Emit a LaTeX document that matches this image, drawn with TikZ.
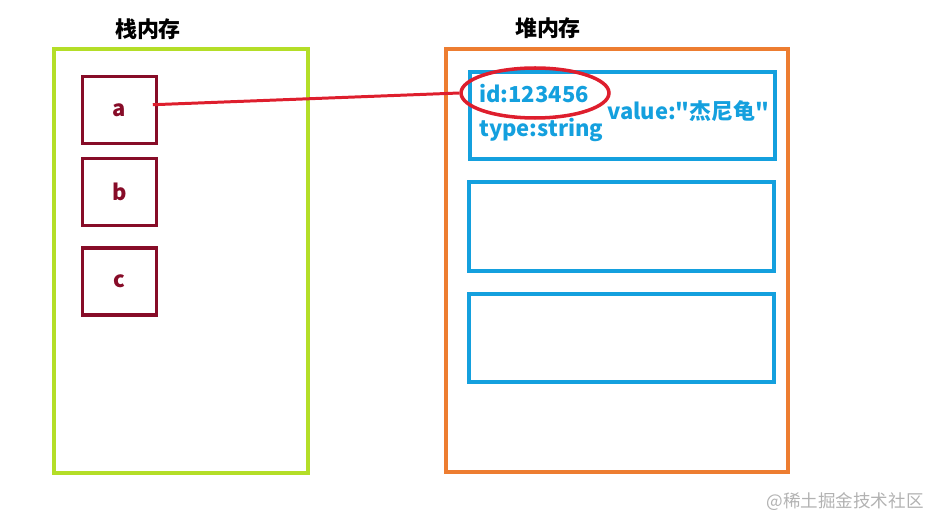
\documentclass[tikz,border=0pt]{standalone}
\usepackage{fontspec}
\setmainfont{Noto Sans CJK SC}[Ligatures=TeXOff]
\usepackage{tikz}
\usetikzlibrary{shapes.geometric}

\definecolor{stackgreen}{RGB}{180,222,40}
\definecolor{heaporange}{RGB}{237,125,49}
\definecolor{vardark}{RGB}{135,12,40}
\definecolor{objblue}{RGB}{20,160,222}
\definecolor{linkred}{RGB}{222,30,45}

\begin{document}
\begin{tikzpicture}[x=0.02cm, y=-0.02cm,
    title/.style={font=\fontsize{12.5}{14}\selectfont\bfseries, inner sep=0pt},
    stackframe/.style={draw=stackgreen, line width=2.2pt},
    heapframe/.style={draw=heaporange, line width=2.2pt},
    varbox/.style={draw=vardark, line width=1.8pt, minimum width=1.48cm, minimum height=1.34cm,
      text=vardark, font=\fontsize{12.5}{15}\selectfont\bfseries},
    objbox/.style={draw=objblue, line width=2.2pt},
    field/.style={text=objblue, inner sep=0pt, anchor=base west, font=\fontsize{12.5}{15}\selectfont\bfseries},
    idmark/.style={ellipse, draw=linkred, line width=2pt, minimum width=2.96cm, minimum height=1cm, inner sep=0pt},
    link/.style={draw=linkred, line width=1.7pt}]
  \useasboundingbox (0,0) rectangle (942,530);

  % stack
  \node[title] (stacktitle) at (148,29) {栈内存};
  \draw[stackframe] (54,49) rectangle (308,473);
  \node[varbox] (a) at (119.5,110) {a};
  \node[varbox] (b) at (119.5,192) {b};
  \node[varbox] (c) at (119.5,281.5) {c};

  % heap
  \node[title] (heaptitle) at (548,28) {堆内存};
  \draw[heapframe] (446,49) rectangle (788,472);
  \draw[objbox] (470,72) rectangle (775,159);
  \draw[objbox] (469,182) rectangle (774,271);
  \draw[objbox] (469,294) rectangle (774,382);

  \node[field] (id) at (479,103) {id:123456};
  \node[field] (type) at (479,137) {type:string};
  \node[field] (value) at (607,120) {value:"杰尼龟"};

  \node[idmark] (mark) at (535,93) {};
  \draw[link] ([xshift=-3pt,yshift=3pt]a.east) -- (mark.west);

  \node[text=black!30, inner sep=0pt, font=\fontsize{10}{12}\selectfont] (wm) at (845,502) {@稀土掘金技术社区};
\end{tikzpicture}
\end{document}
